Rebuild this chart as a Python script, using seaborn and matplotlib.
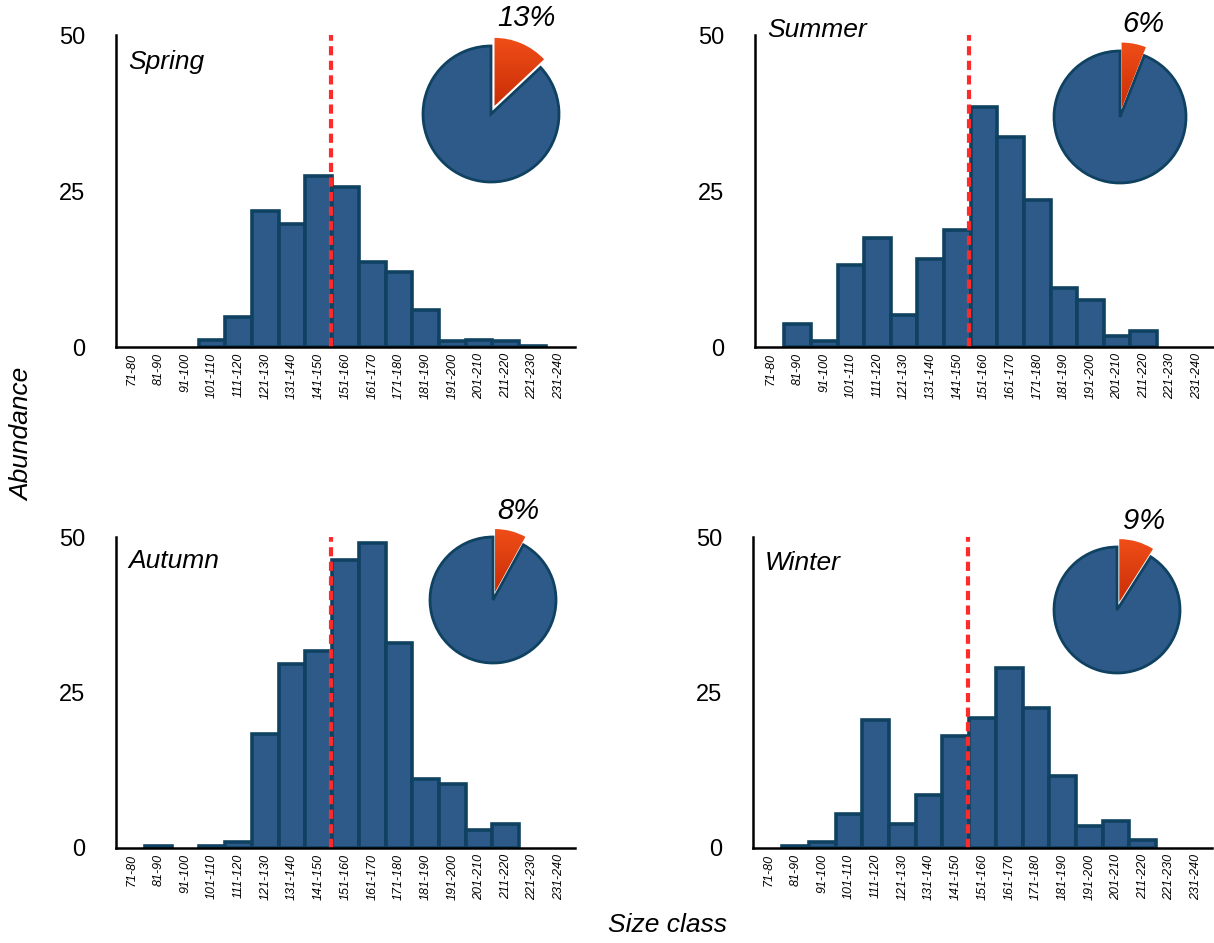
import numpy as np
import pandas as pd
import seaborn as sns
import matplotlib.pyplot as plt

# Size classes (mm) and abundance per season
size_classes = ['71-80', '81-90', '91-100', '101-110', '111-120', '121-130',
                '131-140', '141-150', '151-160', '161-170', '171-180', '181-190',
                '191-200', '201-210', '211-220', '221-230', '231-240']
spring = [0, 0, 0, 1.2, 4.8, 21.8, 19.7, 27.4, 25.6, 13.7, 12.0, 6.0, 0.9, 1.2, 0.9, 0.1, 0]
summer = [0, 3.7, 0.9, 13.2, 17.5, 5.1, 14.1, 18.8, 38.4, 33.7, 23.5, 9.4, 7.6, 1.7, 2.5, 0, 0]
autumn = [0, 0.4, 0, 0.4, 1.0, 18.3, 29.6, 31.7, 46.3, 49.1, 32.9, 11.1, 10.3, 2.9, 3.9, 0, 0]
winter = [0, 0.4, 0.9, 5.5, 20.6, 3.9, 8.6, 18.0, 20.9, 29.0, 22.5, 11.6, 3.5, 4.3, 1.3, 0, 0]
seasons = ['Spring', 'Summer', 'Autumn', 'Winter']
pie_pct = [13, 6, 8, 9]        # share above the size limit
size_limit = 150               # dashed line

BAR_FILL = '#2E5A8A'
BAR_EDGE = '#0F4160'
LINE_RED = '#FF2B2B'

sns.set_style('white')
plt.rcParams['font.family'] = ['Liberation Sans', 'DejaVu Sans']
plt.rcParams['text.color'] = 'black'
plt.rcParams['xtick.color'] = 'black'
plt.rcParams['ytick.color'] = 'black'

W, H = 1214, 943
fig = plt.figure(figsize=(W / 100, H / 100), dpi=100)


def px_rect(l, t, r, b):
    return [l / W, 1 - b / H, (r - l) / W, (b - t) / H]


# panel boxes in pixels (left, top, right, bottom)
panel_px = {'Spring': (116, 35, 575, 347), 'Summer': (755, 35, 1213, 347),
            'Autumn': (116, 537, 575, 848), 'Winter': (753, 537, 1212, 848)}
label_y = {'Spring': 0.913, 'Summer': 1.016, 'Autumn': 0.923, 'Winter': 0.916}
# pie centres and radius in pixels
pie_px = {'Spring': (491, 114, 68), 'Summer': (1120, 117, 66),
          'Autumn': (493, 600, 63), 'Winter': (1117, 610, 63)}

data = {'Spring': spring, 'Summer': summer, 'Autumn': autumn, 'Winter': winter}
lower = np.array([int(s.split('-')[0]) for s in size_classes])
mids = lower + 4.5
limit_x = (size_limit - mids[0]) / (mids[1] - mids[0])

for season, pct in zip(seasons, pie_pct):
    ax = fig.add_axes(px_rect(*panel_px[season]))
    df = pd.DataFrame({'size': size_classes, 'n': data[season]})
    sns.barplot(data=df, x='size', y='n', order=size_classes, color=BAR_FILL,
                saturation=1, width=1.0, edgecolor=BAR_EDGE, linewidth=2.6, ax=ax)
    for p in ax.patches:
        if p.get_height() == 0:
            p.set_visible(False)
    ax.axvline(limit_x, color=LINE_RED, lw=3, dashes=(2.2, 1.3), zorder=5)
    ax.set_xlim(-0.6, 16.6)
    ax.set_ylim(0, 50)
    ax.set_yticks([0, 25, 50])
    ax.set_xlabel('')
    ax.set_ylabel('')
    sns.despine(ax=ax)
    for s in ['left', 'bottom']:
        ax.spines[s].set_linewidth(1.8)
        ax.spines[s].set_color('black')
        ax.spines[s].set_zorder(6)
    ax.tick_params(axis='y', length=0, pad=22, labelsize=17)
    ax.tick_params(axis='x', length=0, pad=4, labelsize=9, rotation=90)
    for t in ax.get_xticklabels():
        t.set_fontstyle('italic')
    ax.text(0.026, label_y[season], season, transform=ax.transAxes,
            fontsize=19, style='italic', ha='left', va='center')

    # inset pie
    cx, cy, r = pie_px[season]
    half = 1.2 * r
    pax = fig.add_axes(px_rect(cx - half, cy - half, cx + half, cy + half))
    wedges, _ = pax.pie([pct, 100 - pct], startangle=90, counterclock=False,
                        explode=[0.13, 0], colors=['none', BAR_FILL],
                        wedgeprops=dict(linewidth=0))
    wedges[1].set_edgecolor(BAR_EDGE)
    wedges[1].set_linewidth(2)
    grad = np.linspace(0, 1, 256).reshape(-1, 1)
    cmap = sns.blend_palette(['#C42A05', '#F5521A'], as_cmap=True)
    im = pax.imshow(grad, extent=(-0.2, 1.3, 0, 1.25), origin='lower',
                    cmap=cmap, aspect='auto', zorder=3)
    im.set_clip_path(wedges[0])
    pax.set_xlim(-1.2, 1.2)
    pax.set_ylim(-1.2, 1.2)
    pax.set_aspect('equal')
    pax.axis('off')
    tx = 0.2 + 0.8 * np.sin(np.radians(pct * 3.6 / 2))
    pax.text(tx, 1.41, f'{pct}%', fontsize=21, style='italic',
             ha='center', va='center')

fig.text(0.018, 0.539, 'Abundance', rotation=90, fontsize=19, style='italic',
         ha='center', va='center')
fig.text(0.55, 0.019, 'Size class', fontsize=19, style='italic',
         ha='center', va='center')

fig.savefig('out.png', dpi=100)
